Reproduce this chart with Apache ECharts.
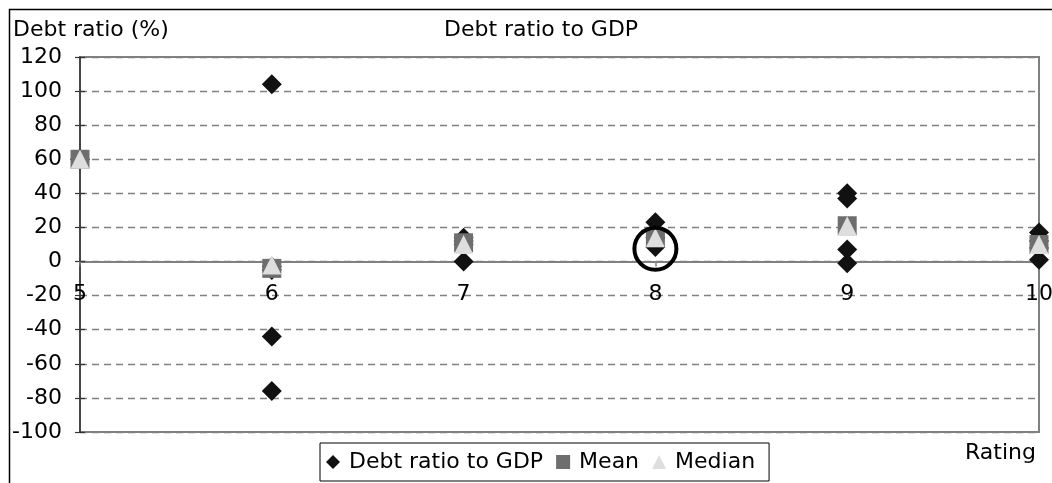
<!DOCTYPE html>
<html>
<head>
<meta charset="utf-8">
<script src="https://cdn.jsdelivr.net/npm/echarts@6/dist/echarts.min.js"></script>
<style>
html,body{margin:0;padding:0;background:#fff;}
#chart{width:1052px;height:483px;}
</style>
</head>
<body>
<div id="chart"></div>
<script>
// ---- data ----
const ratings = [5, 6, 7, 8, 9, 10];
const debtRating = [5, 6, 6, 6, 6, 6, 7, 7, 7, 7, 8, 8, 8, 9, 9, 9, 9, 10, 10, 10, 10];
const debtValue  = [60, 104, -3, -5, -44, -76, 14, 12, 10, 0, 23, 14, 8.5, 40, 37, 7, -1, 17, 12, 8, 1];
const meanValue   = [60, -4, 11, 14, 21, 10];
const medianValue = [60, -2, 10, 14, 21, 10];
const highlightRating = [8];
const highlightValue  = [7.5];
const yTicks = { min: -100, max: 120, step: 20 };
const xTicks = { min: 5, max: 10, step: 1 };

const FONT = 'DejaVu Sans';
const zip = (a, b) => a.map((v, i) => [v, b[i]]);

const GRID = { left: 80, top: 57, right: 13, bottom: 51 };
const plotH = 483 - GRID.top - GRID.bottom;
// x axis crosses y at 0: shift it up from the bottom edge of the grid
const zeroOffset = -plotH * (0 - yTicks.min) / (yTicks.max - yTicks.min);

const chart = echarts.init(document.getElementById('chart'), null, { renderer: 'canvas' });
chart.setOption({
  backgroundColor: '#fff',
  animation: false,
  textStyle: { fontFamily: FONT },
  title: [
    { text: 'Debt ratio to GDP', left: 444, top: 19, padding: 0,
      textStyle: { fontFamily: FONT, fontSize: 22, fontWeight: 'normal', color: '#000' } },
    { text: 'Debt ratio (%)', left: 13, top: 19, padding: 0,
      textStyle: { fontFamily: FONT, fontSize: 22, fontWeight: 'normal', color: '#000' } },
    { text: 'Rating', left: 965, top: 442, padding: 0,
      textStyle: { fontFamily: FONT, fontSize: 22, fontWeight: 'normal', color: '#000' } }
  ],
  graphic: [
    { type: 'rect', silent: true, z: -10,
      shape: { x: 9.5, y: 9.5, width: 1100, height: 600 },
      style: { fill: 'none', stroke: '#000', lineWidth: 1.5 } }
  ],
  grid: {
    left: GRID.left, top: GRID.top, right: GRID.right, bottom: GRID.bottom,
    show: true, borderColor: '#808080', borderWidth: 2, backgroundColor: 'transparent',
    outerBoundsMode: 'none', containLabel: false
  },
  legend: {
    left: 320, top: 443,
    orient: 'horizontal',
    borderColor: '#000', borderWidth: 1,
    padding: [8, 14, 8, 6],
    itemGap: 13, itemWidth: 14, itemHeight: 14,
    textStyle: { fontFamily: FONT, fontSize: 22, color: '#000', padding: [0, 0, 0, 4] },
    data: [
      { name: 'Debt ratio to GDP', icon: 'diamond' },
      { name: 'Mean', icon: 'rect' },
      { name: 'Median', icon: 'triangle' }
    ]
  },
  xAxis: {
    type: 'value', min: xTicks.min, max: xTicks.max, interval: xTicks.step,
    position: 'bottom', offset: zeroOffset,
    axisLine: { show: true, onZero: false, lineStyle: { color: '#808080', width: 2 } },
    axisTick: { show: true, length: 5, lineStyle: { color: '#808080', width: 1.5 } },
    axisLabel: { margin: 22, fontFamily: FONT, fontSize: 22, color: '#000' },
    splitLine: { show: false }
  },
  yAxis: [
    {
      type: 'value', min: yTicks.min, max: yTicks.max, interval: yTicks.step,
      axisLine: { show: true, onZero: false, lineStyle: { color: '#333', width: 1.5 } },
      axisTick: { show: true, length: 5, lineStyle: { color: '#333', width: 1.2 } },
      axisLabel: { margin: 18, fontFamily: FONT, fontSize: 22, color: '#000' },
      splitLine: { show: true, lineStyle: { color: '#808080', width: 1.4, type: [7, 5] } }
    },
    {
      type: 'value', min: yTicks.min, max: yTicks.max, interval: yTicks.step, position: 'left',
      axisLine: { show: false, onZero: false },
      axisTick: { show: true, inside: true, length: 5, lineStyle: { color: '#333', width: 1.2 } },
      axisLabel: { show: false },
      splitLine: { show: false }
    }
  ],
  series: [
    { name: 'Debt ratio to GDP', type: 'scatter', symbol: 'diamond', symbolSize: 20,
      itemStyle: { color: '#111', opacity: 1 }, data: zip(debtRating, debtValue), z: 3 },
    { name: 'Mean', type: 'scatter', symbol: 'rect', symbolSize: 19,
      itemStyle: { color: '#6e6e6e', opacity: 1 }, data: zip(ratings, meanValue), z: 4 },
    { name: 'Median', type: 'scatter', symbol: 'triangle', symbolSize: 19,
      itemStyle: { color: '#dedede', opacity: 1 }, data: zip(ratings, medianValue), z: 5 },
    { name: 'highlight', type: 'scatter', symbol: 'circle', symbolSize: 42,
      itemStyle: { color: 'transparent', borderColor: '#000', borderWidth: 4, opacity: 1 },
      data: zip(highlightRating, highlightValue), z: 6, silent: true }
  ]
});
</script>
</body>
</html>
